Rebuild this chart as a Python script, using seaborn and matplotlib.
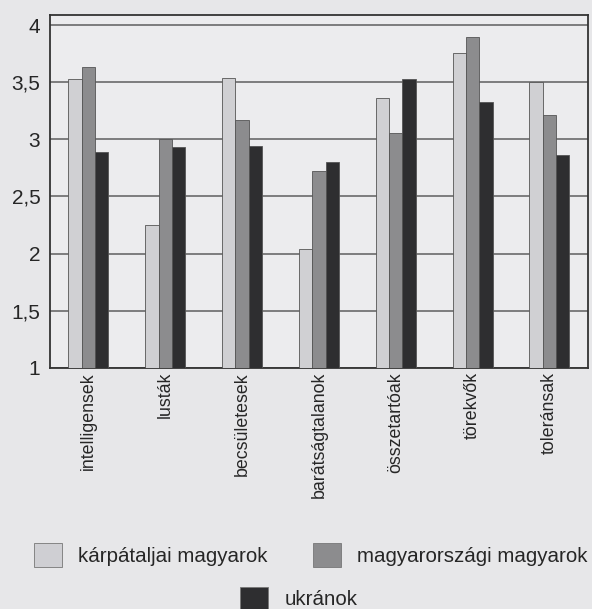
import pandas as pd
import matplotlib
matplotlib.use('Agg')
import matplotlib.pyplot as plt
from matplotlib.patches import Patch
import seaborn as sns

# traits on the x axis
traits = ['intelligensek', 'lusták', 'becsületesek', 'barátságtalanok',
          'összetartóak', 'törekvők', 'toleránsak']

# group names (legend)
groups = ['kárpátaljai magyarok', 'magyarországi magyarok', 'ukránok']

# mean scores
karpataljai = [3.53, 2.25, 3.54, 2.04, 3.36, 3.76, 3.50]
magyarorszagi = [3.63, 3.00, 3.17, 2.72, 3.06, 3.90, 3.21]
ukranok = [2.89, 2.93, 2.94, 2.80, 3.53, 3.33, 2.86]

yticks = [1, 1.5, 2, 2.5, 3, 3.5, 4]
ytick_labels = ['1', '1,5', '2', '2,5', '3', '3,5', '4']

colors = ['#cfcfd3', '#8c8c8e', '#2e2e30']
bg = '#e7e7e9'

df = pd.DataFrame({
    'trait': traits * 3,
    'group': [groups[0]] * 7 + [groups[1]] * 7 + [groups[2]] * 7,
    'value': karpataljai + magyarorszagi + ukranok,
})

sns.set_style('white')
plt.rcParams['font.family'] = ['Liberation Sans', 'DejaVu Sans']

fig = plt.figure(figsize=(5.92, 6.09), dpi=100, facecolor=bg)
ax = fig.add_axes([0.0845, 0.396, 0.9085, 0.579])
ax.set_facecolor('#ececee')

sns.barplot(data=df, x='trait', y='value', hue='group', palette=colors,
            width=0.52, edgecolor='#555555', linewidth=0.6, legend=False,
            ax=ax, zorder=3)

ax.set_ylim(1, 4.087)
ax.set_xlim(-0.5, 6.5)
ax.set_yticks(yticks)
ax.set_yticklabels(ytick_labels, fontsize=15)
ax.yaxis.grid(True, color='#6a6a6a', linewidth=1.2, zorder=0)
ax.set_axisbelow(True)
ax.tick_params(axis='y', length=5, width=1.2, color='#444444', pad=2)
ax.tick_params(axis='x', length=0, pad=3)
ax.set_xticks(range(len(traits)))
ax.set_xticklabels(traits, rotation=90, fontsize=12.8, va='top', ha='center')
ax.set_xlabel('')
ax.set_ylabel('')
for s in ax.spines.values():
    s.set_color('#333333')
    s.set_linewidth(1.3)

# legend: two items on the first row, the third centred below
handles = [Patch(facecolor=c, edgecolor='#777777', linewidth=0.6) for c in colors]
fig.legend(handles[:2], groups[:2], ncol=2, loc='center',
           bbox_to_anchor=(0.525, 0.0887), frameon=False, fontsize=14.8,
           handlelength=1.35, handleheight=1.35, columnspacing=2.2,
           handletextpad=0.8)
fig.legend(handles[2:], groups[2:], loc='center', bbox_to_anchor=(0.505, 0.018),
           frameon=False, fontsize=14.8, handlelength=1.35, handleheight=1.35,
           handletextpad=0.8)

fig.savefig('out.png', dpi=100, facecolor=bg)
